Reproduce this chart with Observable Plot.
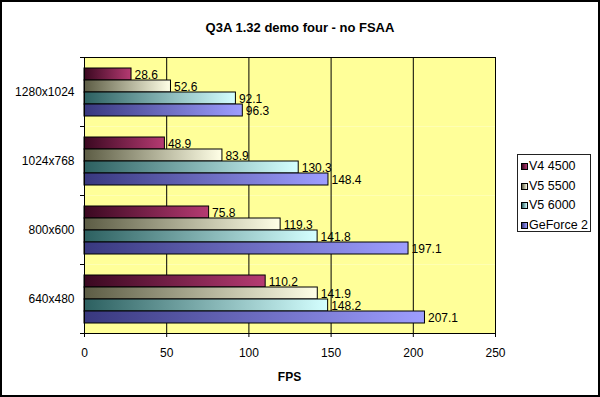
<!DOCTYPE html>
<html><head><meta charset="utf-8">
<script src="https://cdn.jsdelivr.net/npm/d3@7"></script>
<script src="https://cdn.jsdelivr.net/npm/@observablehq/plot@0.6"></script>
<style>
html,body{margin:0;padding:0;background:#fff;}
#wrap{position:relative;width:600px;height:397px;overflow:hidden;font-family:"Liberation Sans",Arial,sans-serif;color:#000;background:#fff;}
#wrap svg{position:absolute;left:0;top:0;}
#border{position:absolute;left:0;top:0;width:600px;height:397px;box-sizing:border-box;border:2px solid #000;pointer-events:none;}
#title{position:absolute;left:0;width:600px;top:20px;text-align:center;font-weight:bold;font-size:13px;}
#xlabel{position:absolute;left:84px;width:411px;top:370px;text-align:center;font-weight:bold;font-size:12px;}
#legend{position:absolute;left:517px;top:154px;width:74px;height:78px;border:1px solid #222;background:#fff;box-sizing:border-box;padding-top:2px;}
#legend .row{height:19.7px;line-height:19.7px;font-size:12.5px;white-space:nowrap;padding-left:3px;}
#legend .sw{display:inline-block;width:5px;height:5px;border:1px solid #000;margin-right:1px;vertical-align:0px;}
</style></head><body><div id="wrap"></div>
<script>
// ---- data ----
const title = "Q3A 1.32 demo four - no FSAA";
const xLabel = "FPS";
const resolutions = ["1280x1024", "1024x768", "800x600", "640x480"];
const cards = ["V4 4500", "V5 5500", "V5 6000", "GeForce 2"];
const v4_4500  = [28.6, 48.9, 75.8, 110.2];
const v5_5500  = [52.6, 83.9, 119.3, 141.9];
const v5_6000  = [92.1, 130.3, 141.8, 148.2];
const geforce2 = [96.3, 148.4, 197.1, 207.1];
const xTicks = [0, 50, 100, 150, 200, 250];

// ---- styles ----
const gradients = [
  ["#3a0820", "#b53a72"],
  ["#5c5c44", "#ffffe6"],
  ["#2c6060", "#d4ffff"],
  ["#38387e", "#9e9eff"]
];
const plotBg = "#ffff99";

const seriesValues = [v4_4500, v5_5500, v5_6000, geforce2];
const data = resolutions.flatMap((r, i) => cards.map((c, j) => ({res: r, card: c, fps: seriesValues[j][i]})));

const wrap = document.getElementById("wrap");

const plot = Plot.plot({
  width: 600,
  height: 397,
  marginLeft: 84,
  marginRight: 105,
  marginTop: 56,
  marginBottom: 64,
  style: {fontFamily: "'Liberation Sans', Arial, sans-serif", fontSize: "12px", color: "#000", background: "transparent", overflow: "visible"},
  x: {domain: [0, 250], ticks: xTicks, tickSize: 4, tickPadding: 11, label: null, fontSize: 11},
  fy: {domain: resolutions, padding: 0, label: null, axis: "left", tickSize: 0, tickPadding: 10},
  y: {domain: cards, paddingInner: 0, paddingOuter: 0.8, axis: null},
  color: {type: "ordinal", domain: cards, range: cards.map((c, i) => `url(#grad${i})`)},
  marks: [
    Plot.frame({fill: plotBg, stroke: "none"}),
    Plot.ruleX(xTicks, {stroke: "#000", strokeWidth: 1}),
    Plot.frame({anchor: "top", stroke: "#000", insetLeft: -4, insetRight: 411}),
    Plot.frame({anchor: "bottom", stroke: "#000", insetLeft: -4, insetRight: 411}),
    Plot.barX(data, {fy: "res", y: "card", x: "fps", fill: "card", stroke: "#000", strokeWidth: 1}),
    Plot.text(data, {fy: "res", y: "card", x: "fps", text: d => d.fps.toFixed(1), dx: 3, dy: 1, textAnchor: "start", fontSize: 12, fill: "#000"}),
    Plot.frame({facet: "super", stroke: "#000"})
  ]
});

const svg = plot;
const defs = d3.select(svg).insert("defs", ":first-child");
gradients.forEach((g, i) => {
  const lg = defs.append("linearGradient").attr("id", `grad${i}`).attr("x1", 0).attr("x2", 1).attr("y1", 0).attr("y2", 0);
  lg.append("stop").attr("offset", "0%").attr("stop-color", g[0]);
  lg.append("stop").attr("offset", "100%").attr("stop-color", g[1]);
});
wrap.appendChild(svg);

const t = document.createElement("div"); t.id = "title"; t.textContent = title; wrap.appendChild(t);
const xl = document.createElement("div"); xl.id = "xlabel"; xl.textContent = xLabel; wrap.appendChild(xl);
const lg = document.createElement("div"); lg.id = "legend";
cards.forEach((c, i) => {
  const row = document.createElement("div"); row.className = "row";
  const sw = document.createElement("span"); sw.className = "sw";
  sw.style.background = `linear-gradient(to right, ${gradients[i][0]}, ${gradients[i][1]})`;
  row.appendChild(sw);
  row.appendChild(document.createTextNode(c));
  lg.appendChild(row);
});
wrap.appendChild(lg);
const b = document.createElement("div"); b.id = "border"; wrap.appendChild(b);
</script>
</body></html>
